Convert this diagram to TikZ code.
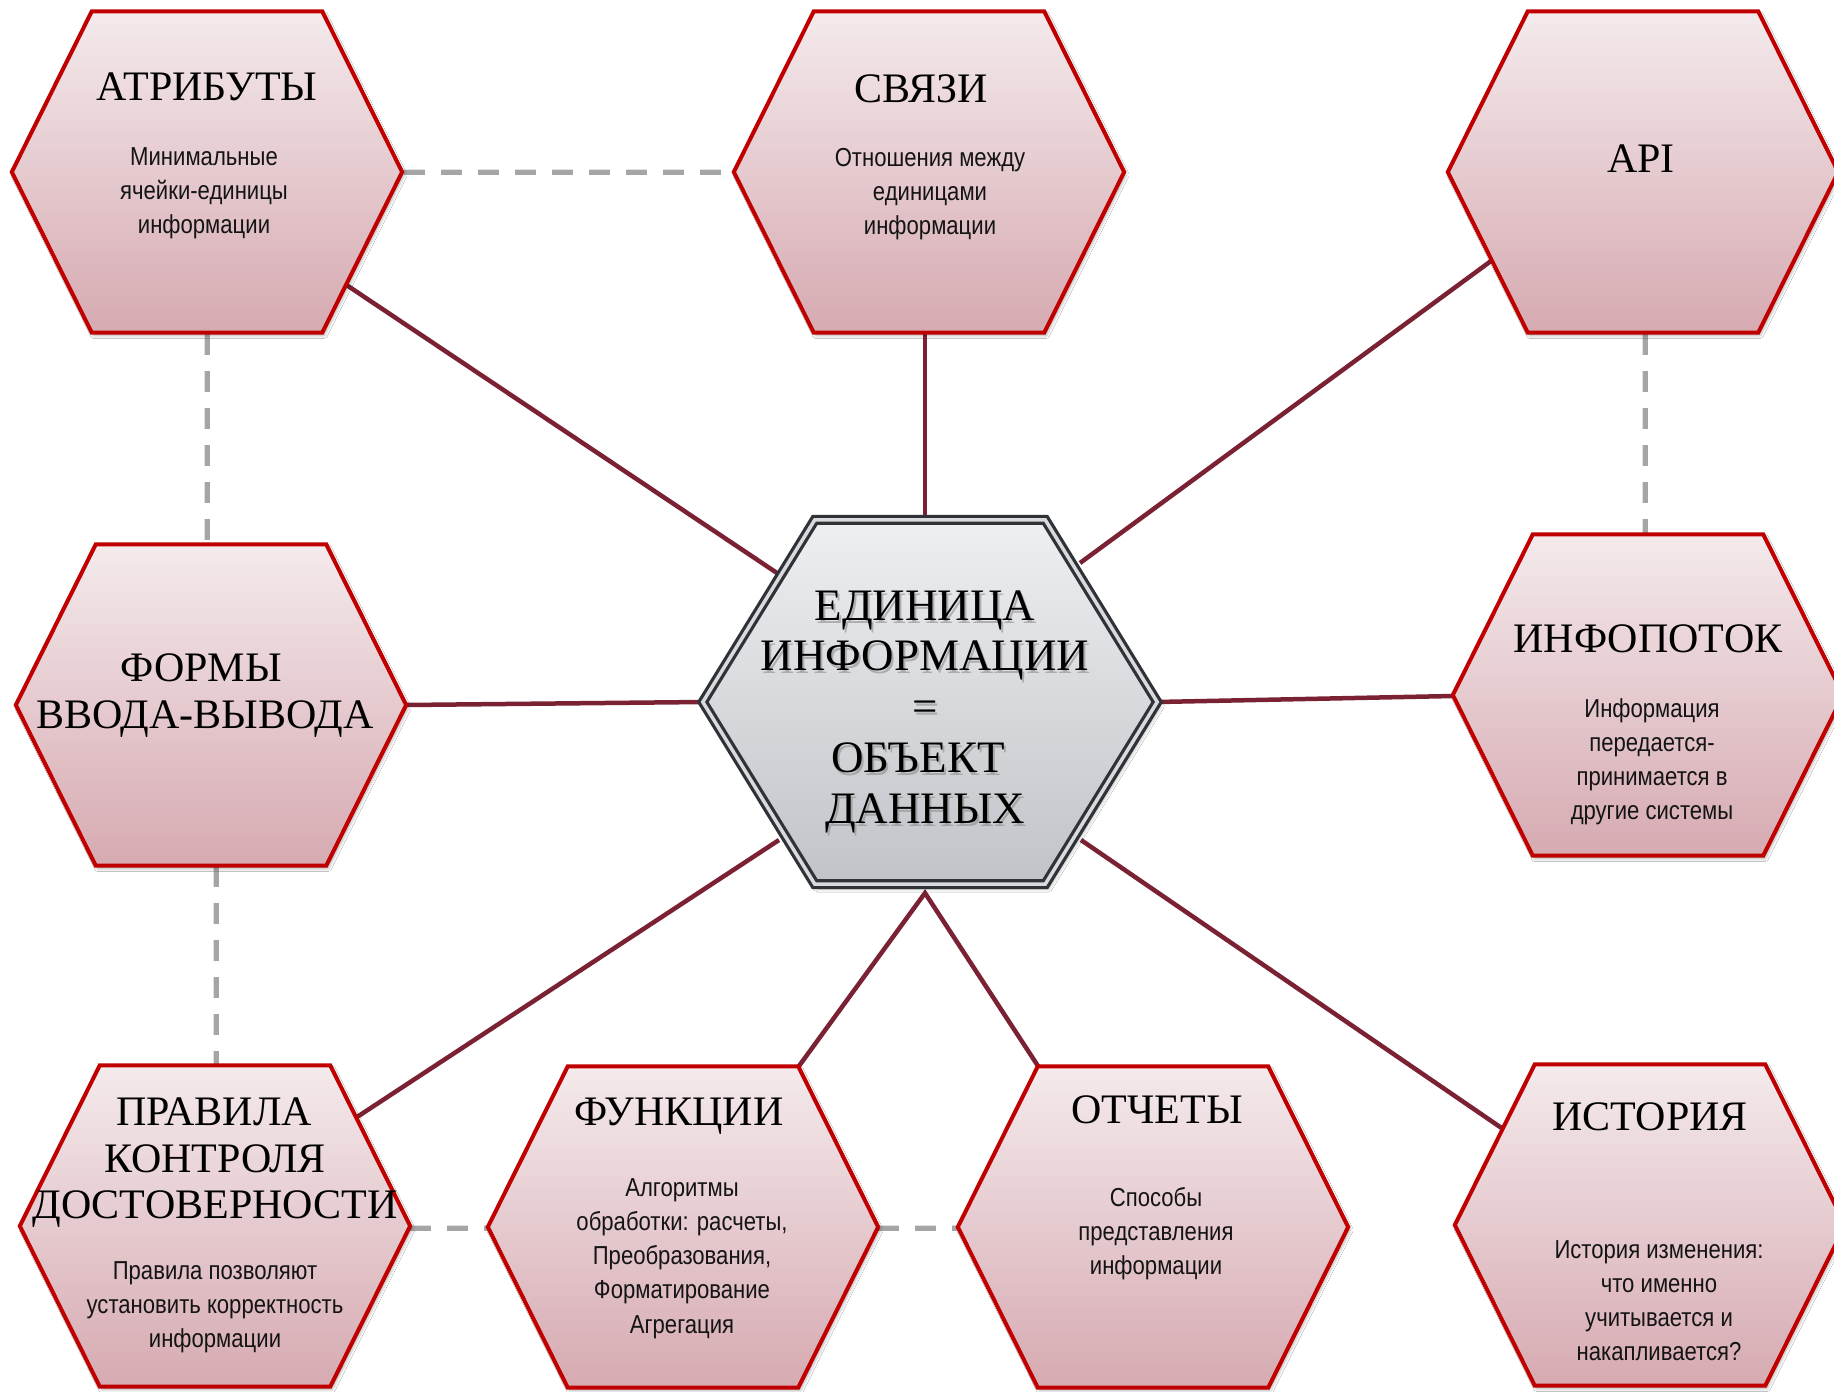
\documentclass[tikz,border=0pt]{standalone}
\usepackage{fontspec}
\setmainfont{Liberation Serif}
\newfontfamily\descfont[FakeStretch=0.85]{Liberation Sans}
\usetikzlibrary{shadows.blur}

\definecolor{hexTop}{HTML}{F4EAEC}
\definecolor{hexBot}{HTML}{D6AAB1}
\definecolor{hexRed}{HTML}{C00000}
\definecolor{linkRed}{HTML}{7A2233}
\definecolor{dashGray}{HTML}{A5A5A5}
\definecolor{ctrTop}{HTML}{EEEFF1}
\definecolor{ctrBot}{HTML}{C0C3C8}
\definecolor{ctrDark}{HTML}{2F3337}
\definecolor{ctrGap}{HTML}{D9DADD}

\tikzset{
  hex/.style 2 args={insert path={(#1.west) -- ([xshift=#2pt]#1.north west) -- ([xshift=-#2pt]#1.north east) -- (#1.east) -- ([xshift=-#2pt]#1.south east) -- ([xshift=#2pt]#1.south west) -- cycle}},
  frame/.style={draw=none, inner sep=0pt, minimum width=390pt, minimum height=321pt},
  hexbox/.style={top color=hexTop, bottom color=hexBot, draw=hexRed, line width=4pt, line join=miter,
    blur shadow={shadow xshift=2pt, shadow yshift=-3pt, shadow blur radius=3pt, shadow opacity=30}},
  link/.style={draw=linkRed, line width=4.5pt},
  dashlink/.style={draw=dashGray, line width=5pt, dash pattern=on 21pt off 16pt},
  dashshade/.style={draw=black, opacity=0.12, line width=6pt, dash pattern=on 21pt off 16pt},
  title/.style={inner sep=0pt, anchor=base, font=\fontsize{42}{50}\selectfont},
  desc/.style={inner sep=0pt, anchor=base, text=black!92, font=\descfont\fontsize{26}{34}\selectfont},
  core/.style={inner sep=0pt, anchor=base, font=\fontsize{45}{51}\selectfont},
  coreshade/.style={core, text=black!45, opacity=0.6},
}

\begin{document}
\begin{tikzpicture}[x=1pt, y=-1pt]
\fill[white] (0,0) rectangle (1834,1392);
\useasboundingbox (0,0) rectangle (1834,1392);

% hexagon frames
\node[frame] (atr) at (207,172) {};
\node[frame] (svz) at (929,172) {};
\node[frame] (api) at (1643,172) {};
\node[frame] (frm) at (211,705) {};
\node[frame] (inf) at (1648,695) {};
\node[frame] (prv) at (215,1226) {};
\node[frame] (fun) at (683,1227) {};
\node[frame] (otc) at (1153,1227) {};
\node[frame] (ist) at (1650,1225) {};
\node[frame, minimum width=454pt, minimum height=364pt] (ctr) at (930,702) {};

% connector end points on the borders
\coordinate (atr-o) at (345,284);  \coordinate (ctr-a) at (777,573);
\coordinate (svz-o) at (925,333);  \coordinate (ctr-s) at (925,520);
\coordinate (api-o) at (1491,261); \coordinate (ctr-p) at (1080,563);
\coordinate (frm-o) at (406,705);  \coordinate (ctr-f) at (703,702);
\coordinate (inf-o) at (1453,696); \coordinate (ctr-i) at (1157,702);
\coordinate (prv-o) at (357,1117); \coordinate (ctr-r) at (779,840);
\coordinate (fun-o) at (799,1066); \coordinate (apex) at (925,893);
\coordinate (otc-o) at (1038,1066);
\coordinate (ist-o) at (1503,1129); \coordinate (ctr-h) at (1081,840);

% solid links to the core
\draw[link] (atr-o) -- (ctr-a);
\draw[link] (svz-o) -- (ctr-s);
\draw[link] (api-o) -- (ctr-p);
\draw[link] (frm-o) -- (ctr-f);
\draw[link] (ctr-i) -- (inf-o);
\draw[link] (prv-o) -- (ctr-r);
\draw[link, line join=miter] (fun-o) -- (apex) -- (otc-o);
\draw[link] (ist-o) -- (ctr-h);

% dashed side links
\coordinate (d1a) at (404,172);  \coordinate (d1b) at (733,172);
\coordinate (d2a) at (207,334);  \coordinate (d2b) at (207,544);
\coordinate (d3a) at (216,866);  \coordinate (d3b) at (216,1065);
\coordinate (d4a) at (1645,334); \coordinate (d4b) at (1645,535);
\coordinate (d5a) at (410,1228); \coordinate (d5b) at (489,1228);
\coordinate (d6a) at (878,1228); \coordinate (d6b) at (959,1228);
\begin{scope}[xshift=1pt, yshift=-3pt]
  \foreach \a/\b in {d1a/d1b, d2a/d2b, d3a/d3b, d4a/d4b, d5a/d5b, d6a/d6b}
    \draw[dashshade] (\a) -- (\b);
\end{scope}
\foreach \a/\b in {d1a/d1b, d2a/d2b, d3a/d3b, d4a/d4b, d5a/d5b, d6a/d6b}
  \draw[dashlink] (\a) -- (\b);

% outer hexagons
\foreach \n in {atr, svz, api, frm, inf, prv, fun, otc, ist}
  \path[hexbox, hex={\n}{80}];

% core hexagon with double border
\path[top color=ctrTop, bottom color=ctrBot,
  blur shadow={shadow xshift=3pt, shadow yshift=-4pt, shadow blur radius=4pt, shadow opacity=40},
  hex={ctr}{112}];
\draw[ctrDark, line width=10pt, line join=miter, hex={ctr}{112}];
\draw[ctrGap, line width=3.5pt, line join=miter, hex={ctr}{112}];

% core text
\begin{scope}[xshift=2pt, yshift=-3pt]
\node[coreshade] (cs1) at (925,620) {ЕДИНИЦА};
\node[coreshade] (cs2) at (925,670) {ИНФОРМАЦИИ};
\node[coreshade] (cs3) at (925,721) {=};
\node[coreshade] (cs4) at (918,772) {ОБЪЕКТ};
\node[coreshade] (cs5) at (925,823) {ДАННЫХ};
\end{scope}
\node[core] (c1) at (925,620) {ЕДИНИЦА};
\node[core] (c2) at (925,670) {ИНФОРМАЦИИ};
\node[core] (c3) at (925,721) {=};
\node[core] (c4) at (918,772) {ОБЪЕКТ};
\node[core] (c5) at (925,823) {ДАННЫХ};

% titles
\node[title] (atr-t) at (207,100) {АТРИБУТЫ};
\node[title] (svz-t) at (921,102) {СВЯЗИ};
\node[title] (api-t) at (1641,172) {API};
\node[title] (frm-t1) at (201,681) {ФОРМЫ};
\node[title] (frm-t2) at (205,728) {ВВОДА-ВЫВОДА};
\node[title] (inf-t) at (1648,652) {ИНФОПОТОК};
\node[title] (prv-t1) at (214,1125) {ПРАВИЛА};
\node[title] (prv-t2) at (215,1172) {КОНТРОЛЯ};
\node[title] (prv-t3) at (215,1218) {ДОСТОВЕРНОСТИ};
\node[title] (fun-t) at (679,1125) {ФУНКЦИИ};
\node[title] (otc-t) at (1157,1123) {ОТЧЕТЫ};
\node[title] (ist-t) at (1650,1130) {ИСТОРИЯ};

% descriptions
\foreach \s [count=\i from 0] in {Минимальные, ячейки-единицы, информации}
  \node[desc] (atr-d\i) at (204,{165+34*\i}) {\s};
\foreach \s [count=\i from 0] in {Отношения между, единицами, информации}
  \node[desc] (svz-d\i) at (930,{166+34*\i}) {\s};
\foreach \s [count=\i from 0] in {Информация, передается-, принимается в, другие системы}
  \node[desc] (inf-d\i) at (1652,{717+34*\i}) {\s};
\foreach \s [count=\i from 0] in {Правила позволяют, установить корректность, информации}
  \node[desc] (prv-d\i) at (215,{1279+34*\i}) {\s};
\foreach \s [count=\i from 0] in {Алгоритмы, {обработки: расчеты,}, {Преобразования,}, Форматирование, Агрегация}
  \node[desc] (fun-d\i) at (682,{1196+34.3*\i}) {\s};
\foreach \s [count=\i from 0] in {Способы, представления, информации}
  \node[desc] (otc-d\i) at (1156,{1206+34*\i}) {\s};
\foreach \s [count=\i from 0] in {История изменения:, что именно, учитывается и, накапливается?}
  \node[desc] (ist-d\i) at (1659,{1258+34*\i}) {\s};
\end{tikzpicture}
\end{document}
